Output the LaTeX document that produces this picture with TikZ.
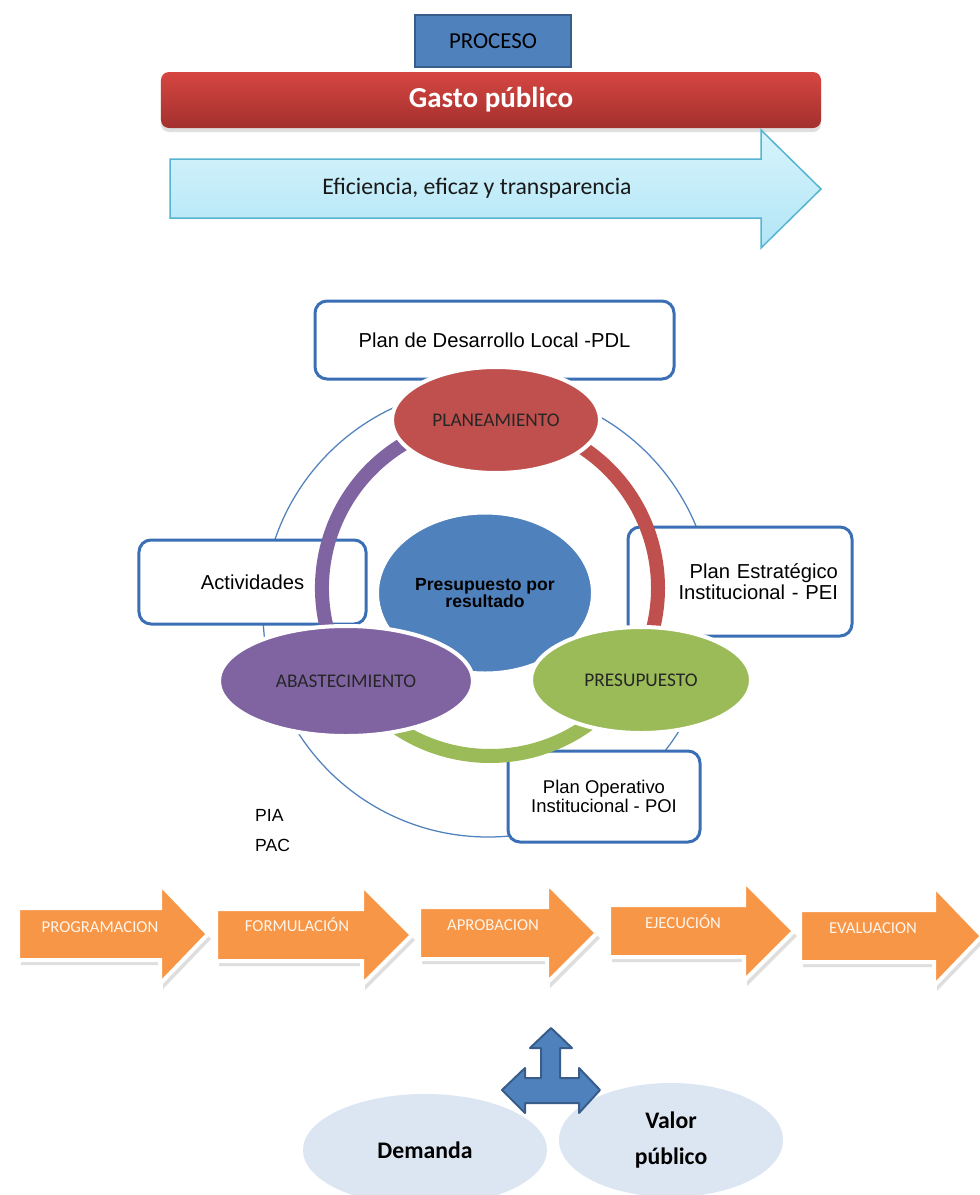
\documentclass[tikz,border=0pt]{standalone}
\usepackage{fontspec}
\setmainfont{Carlito}
\newfontfamily\arialfont{Liberation Sans}
\usetikzlibrary{shapes.geometric, shadows, positioning}
\definecolor{procblue}{RGB}{79,129,189}
\definecolor{procedge}{RGB}{56,93,138}
\definecolor{gastotop}{RGB}{214,70,66}
\definecolor{gastobot}{RGB}{163,48,45}
\definecolor{flowtop}{RGB}{214,244,252}
\definecolor{flowbot}{RGB}{178,229,246}
\definecolor{flowedge}{RGB}{86,180,210}
\definecolor{boxblue}{RGB}{58,111,181}
\definecolor{planred}{RGB}{192,80,77}
\definecolor{abaspurple}{RGB}{128,100,162}
\definecolor{presgreen}{RGB}{155,187,89}
\definecolor{stageorange}{RGB}{247,150,70}
\definecolor{valorblue}{RGB}{220,230,242}

\begin{document}
\begin{tikzpicture}[
    x=0.2mm, y=-0.2mm,
    boxnode/.style={draw=boxblue, line width=0.6mm, rounded corners=2.4mm, fill=white,
        font=\arialfont\fontsize{11.5}{12}\selectfont},
    phase/.style={ellipse, draw=white, line width=0.8mm, text=black!85,
        font=\fontsize{11}{13}\selectfont},
    ringarc/.style={line width=2.8mm},
    stagelabel/.style={text=white!92!orange, font=\fontsize{9.5}{11}\selectfont},
    valnode/.style={ellipse, fill=valorblue, align=center,
        font=\bfseries\fontsize{13.5}{20}\selectfont},
]
    \useasboundingbox (0,0) rectangle (980,1195);
    \clip (0,0) rectangle (980,1195);
    \fill[white] (0,0) rectangle (980,1195);

    % header
    \node[fill=procblue, draw=procedge, line width=0.4mm, minimum width=31.2mm, minimum height=10.4mm,
        font=\fontsize{13}{15}\selectfont] (proceso) at (493,41) {PROCESO};
    \node[rounded corners=1.6mm, top color=gastotop, bottom color=gastobot,
        drop shadow={shadow xshift=0mm, shadow yshift=-0.8mm, opacity=0.25},
        minimum width=132mm, minimum height=11.2mm, text=white,
        font=\bfseries\fontsize{16.5}{18}\selectfont] (gasto) at (491,100) {Gasto público};
    \shade[top color=flowtop, bottom color=flowbot, draw=flowedge, line width=0.3mm]
        (170,159) -- (761,159) -- (761,130) -- (821,189) -- (761,248) -- (761,218) -- (170,218) -- cycle;
    \node[font=\fontsize{13.5}{15}\selectfont, text=black!90] (eficiencia) at (477,188)
        {Eficiencia, eficaz y transparencia};

    % cycle
    \coordinate (ring) at (490,588);
    \draw[procblue, line width=0.25mm] (488,612) circle[radius=225];
    \node[boxnode, minimum width=71.8mm, minimum height=15.6mm] (pdl) at (494.5,340)
        {Plan de Desarrollo Local -PDL};
    \node[boxnode, minimum width=45.4mm, minimum height=16.8mm] (actividades) at (252.5,582) {Actividades};
    \node[boxnode, minimum width=44.8mm, minimum height=21.8mm, inner xsep=2.8mm, text width=39.2mm,
        align=right] (pei) at (740,581.5) {Plan Estratégico\\Institucional - PEI};
    \node[boxnode, minimum width=38.4mm, minimum height=18.2mm, align=center,
        font=\arialfont\fontsize{10.5}{10.5}\selectfont] (poi) at (604,796.5)
        {Plan Operativo\\Institucional - POI};

    \draw[ringarc, planred] ([shift={(-70:168)}]ring) arc[start angle=-70, end angle=25, radius=168];
    \draw[ringarc, abaspurple] ([shift={(-110:168)}]ring) arc[start angle=-110, end angle=-200, radius=168];
    \draw[ringarc, presgreen] ([shift={(-230:168)}]ring) arc[start angle=-230, end angle=-315, radius=168];

    \node[ellipse, fill=procblue, draw=white, line width=0.8mm, minimum width=43.2mm, minimum height=32.2mm,
        align=center, font=\arialfont\bfseries\fontsize{10}{10}\selectfont] (ppr) at (485,593)
        {Presupuesto por\\resultado};
    \node[phase, fill=planred, minimum width=41.6mm, minimum height=21.2mm] (planeamiento) at (496,420) {PLANEAMIENTO};
    \node[phase, fill=abaspurple, minimum width=50.8mm, minimum height=22mm] (abastecimiento) at (346,681) {ABASTECIMIENTO};
    \node[phase, fill=presgreen, minimum width=44mm, minimum height=21.2mm] (presupuesto) at (641,680) {PRESUPUESTO};

    \node[anchor=west, font=\arialfont\fontsize{10}{12}\selectfont] (pia) at (249,815) {PIA};
    \node[anchor=west, font=\arialfont\fontsize{10}{12}\selectfont] (pac) at (249,845) {PAC};

    % stages
    \foreach \xa/\xb/\xt/\yc/\lx/\ly/\txt [count=\i] in {
        18/160/208/934/100/927/PROGRAMACION,
        216/362/412/935/297/925/FORMULACIÓN,
        419/547/597/933/493/925/APROBACION,
        609/744/794/931/683/922/EJECUCIÓN,
        800/934/982/936/873/928/EVALUACION} {
        \fill[black!13, shift={(3,5)}] (\xa,\yc-26) -- (\xb,\yc-26) -- (\xb,\yc-50) -- (\xt,\yc)
            -- (\xb,\yc+50) -- (\xb,\yc+26) -- (\xa,\yc+26) -- cycle;
        \filldraw[fill=stageorange, draw=white, line width=0.8mm, line join=miter]
            (\xa,\yc-26) -- (\xb,\yc-26) -- (\xb,\yc-50) -- (\xt,\yc)
            -- (\xb,\yc+50) -- (\xb,\yc+26) -- (\xa,\yc+26) -- cycle;
        \node[stagelabel] (stage\i) at (\lx,\ly) {\txt};
    }

    % result
    \node[valnode, minimum width=48.8mm, minimum height=22.4mm] (demanda) at (425,1150) {Demanda};
    \node[valnode, minimum width=44.8mm, minimum height=22.8mm] (valor) at (671,1140) {Valor\\público};
    \filldraw[fill=procblue, draw=procedge, line width=0.4mm, line join=round]
        (551,1028) -- (572,1048) -- (560,1048) -- (560,1078) -- (579,1078) -- (579,1068) -- (600,1090)
        -- (579,1113) -- (579,1103) -- (525,1103) -- (525,1113) -- (502,1090) -- (525,1068)
        -- (525,1078) -- (541,1078) -- (541,1048) -- (530,1048) -- cycle;
\end{tikzpicture}
\end{document}
